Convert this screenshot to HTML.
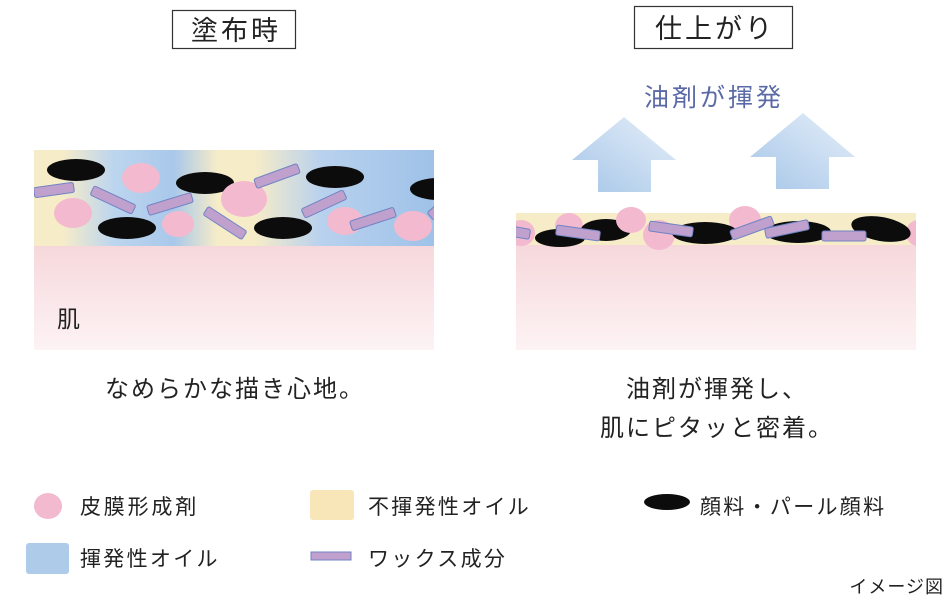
<!DOCTYPE html>
<html><head><meta charset="utf-8"><style>
html,body{margin:0;padding:0;background:#fff;}
svg{display:block;}
text{font-family:"Liberation Sans","Noto Sans CJK JP",sans-serif;fill:#222;}
</style></head><body>
<svg width="950" height="604" viewBox="0 0 950 604" xmlns="http://www.w3.org/2000/svg">
<defs>
<linearGradient id="mix" x1="0" x2="1" y1="0" y2="0">
<stop offset="0" stop-color="#f7ecc8"/><stop offset="0.07" stop-color="#f7ecc8"/>
<stop offset="0.2" stop-color="#bcd5ef"/><stop offset="0.35" stop-color="#a9c8ea"/>
<stop offset="0.46" stop-color="#f7ecc8"/><stop offset="0.55" stop-color="#f7ecc8"/>
<stop offset="0.72" stop-color="#b8d1ee"/><stop offset="1" stop-color="#9fc2e8"/>
</linearGradient>
<linearGradient id="skin" x1="0" x2="0" y1="0" y2="1">
<stop offset="0" stop-color="#f6d8dc"/><stop offset="1" stop-color="#fdf3f4"/>
</linearGradient>
<linearGradient id="arr" x1="0" x2="1" y1="1" y2="0">
<stop offset="0" stop-color="#a6c6e8"/><stop offset="1" stop-color="#e6eff9"/>
</linearGradient>
<clipPath id="cl"><rect x="34" y="140" width="400" height="220"/></clipPath>
<clipPath id="cr"><rect x="516" y="190" width="400" height="170"/></clipPath>
</defs>

<rect x="172.5" y="10.5" width="123" height="38" fill="none" stroke="#333" stroke-width="1.2"/>
<text x="236" y="40" font-size="27" letter-spacing="3" text-anchor="middle">塗布時</text>
<rect x="634.5" y="6.5" width="158" height="42" fill="none" stroke="#333" stroke-width="1.2"/>
<text x="715" y="38" font-size="27" letter-spacing="3" text-anchor="middle">仕上がり</text>
<text x="714" y="106" font-size="25" letter-spacing="3" text-anchor="middle" style="fill:#5b6aa6">油剤が揮発</text>

<g clip-path="url(#cl)">
<rect x="34" y="246" width="400" height="104" fill="url(#skin)"/>
<rect x="34" y="150" width="400" height="96" fill="url(#mix)"/>
<g fill="#0c0c0c">
<ellipse cx="76" cy="170" rx="29" ry="11"/><ellipse cx="205" cy="183" rx="29" ry="11"/>
<ellipse cx="127" cy="228" rx="29" ry="11"/><ellipse cx="283" cy="228" rx="29" ry="11"/>
<ellipse cx="335" cy="177" rx="29" ry="11"/><ellipse cx="438" cy="189" rx="28" ry="11"/>
</g>
<g fill="#f3b9cf">
<ellipse cx="141" cy="178" rx="19" ry="15"/><ellipse cx="73" cy="213" rx="19" ry="15"/>
<ellipse cx="178" cy="224" rx="16" ry="13"/><ellipse cx="244" cy="199" rx="23" ry="18"/>
<ellipse cx="345" cy="221" rx="18" ry="14"/><ellipse cx="413" cy="226" rx="19" ry="15"/>
</g>
<g fill="#c0a0cc" stroke="#6f84c4" stroke-width="1">
<rect x="-20" y="-5" width="40" height="10" rx="2" transform="translate(54,190) rotate(-8)"/>
<rect x="-23" y="-5" width="46" height="10" rx="2" transform="translate(113,200) rotate(25)"/>
<rect x="-23" y="-5" width="46" height="10" rx="2" transform="translate(170,204) rotate(-17)"/>
<rect x="-23" y="-5" width="46" height="10" rx="2" transform="translate(225,223) rotate(33)"/>
<rect x="-23" y="-5" width="46" height="10" rx="2" transform="translate(277,176) rotate(-20)"/>
<rect x="-23" y="-5" width="46" height="10" rx="2" transform="translate(324,204) rotate(-25)"/>
<rect x="-23" y="-5" width="46" height="10" rx="2" transform="translate(373,219) rotate(-18)"/>
<rect x="-10" y="-5" width="20" height="10" rx="2" transform="translate(438,210) rotate(-40)"/>
</g>
</g>
<text x="57" y="327" font-size="23">肌</text>
<text x="235" y="397" font-size="24" letter-spacing="2" text-anchor="middle">なめらかな描き心地。</text>

<polygon points="572,160 624,117 676,160 651,160 651,192 598,192 598,160" fill="url(#arr)"/>
<polygon points="750,157 803,113 855,157 829,157 829,189 776,189 776,157" fill="url(#arr)"/>
<g clip-path="url(#cr)">
<rect x="516" y="245" width="400" height="105" fill="url(#skin)"/>
<rect x="516" y="213" width="400" height="32" fill="#f7ecc8"/>
<g fill="#f3b9cf">
<ellipse cx="521" cy="233" rx="14" ry="13"/><ellipse cx="569" cy="226" rx="14" ry="13"/>
<ellipse cx="659" cy="235" rx="16" ry="15"/><ellipse cx="745" cy="220" rx="16" ry="14"/>
<ellipse cx="918" cy="233" rx="12" ry="13"/>
</g>
<g fill="#0c0c0c">
<ellipse cx="560" cy="238" rx="25" ry="9"/><ellipse cx="606" cy="230" rx="25" ry="11"/>
<ellipse cx="705" cy="233" rx="33" ry="11"/><ellipse cx="798" cy="232" rx="33" ry="11"/>
<ellipse cx="881" cy="229" rx="30" ry="12" transform="rotate(10 881 229)"/>
</g>
<g fill="#f3b9cf"><ellipse cx="631" cy="220" rx="15" ry="13"/></g>
<g fill="#c0a0cc" stroke="#6f84c4" stroke-width="1">
<rect x="-14" y="-5" width="28" height="10" rx="2" transform="translate(516,232) rotate(10)"/>
<rect x="-22" y="-5" width="44" height="10" rx="2" transform="translate(578,233) rotate(8)"/>
<rect x="-22" y="-5" width="44" height="10" rx="2" transform="translate(671,229) rotate(8)"/>
<rect x="-22" y="-5" width="44" height="10" rx="2" transform="translate(752,228) rotate(-20)"/>
<rect x="-22" y="-5" width="44" height="10" rx="2" transform="translate(787,229) rotate(-12)"/>
<rect x="-22" y="-5" width="44" height="10" rx="2" transform="translate(844,236)"/>
</g>
</g>
<text x="717" y="397" font-size="24" letter-spacing="2" text-anchor="middle">油剤が揮発し、</text>
<text x="717" y="436" font-size="24" letter-spacing="2" text-anchor="middle">肌にピタッと密着。</text>

<ellipse cx="48" cy="506" rx="14" ry="13" fill="#f3b9cf"/>
<text x="80" y="514" font-size="21" letter-spacing="2.8">皮膜形成剤</text>
<rect x="310" y="490" width="44" height="30" rx="3" fill="#f8e6b8"/>
<text x="368" y="514" font-size="21" letter-spacing="2.3">不揮発性オイル</text>
<ellipse cx="667" cy="502" rx="23" ry="8" fill="#0c0c0c"/>
<text x="700" y="514" font-size="21" letter-spacing="2.3">顔料・パール顔料</text>
<rect x="26" y="543" width="43" height="31" rx="3" fill="#aecbea"/>
<text x="80" y="566" font-size="21" letter-spacing="2.3">揮発性オイル</text>
<rect x="311" y="552" width="40" height="8" fill="#c0a0cc" stroke="#6f84c4" stroke-width="1"/>
<text x="368" y="566" font-size="21" letter-spacing="2.3">ワックス成分</text>
<text x="944" y="593" font-size="18" letter-spacing="1" text-anchor="end">イメージ図</text>
</svg>
</body></html>
